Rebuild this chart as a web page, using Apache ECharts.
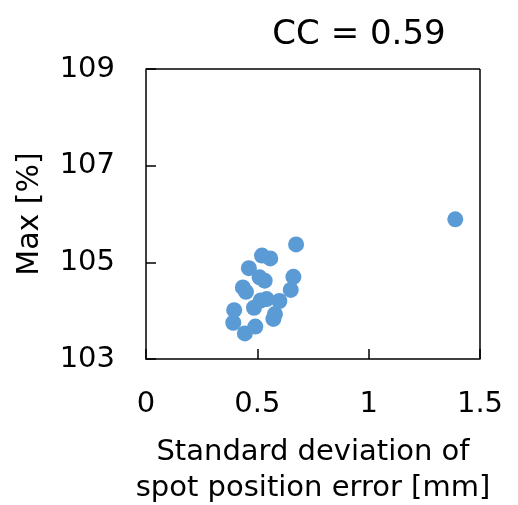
<!DOCTYPE html>
<html>
<head>
<meta charset="utf-8">
<script src="https://cdn.jsdelivr.net/npm/echarts@6/dist/echarts.min.js"></script>
<style>
html,body{margin:0;padding:0;background:#fff;}
#main{width:518px;height:505px;}
</style>
</head>
<body>
<div id="main"></div>
<script>
var titleText = 'CC = 0.59';
var xName = 'Standard deviation of\nspot position error [mm]';
var yName = 'Max [%]';
var xTicks = [0, 0.5, 1, 1.5];
var yTicks = [103, 105, 107, 109];
var sdValues = [1.389, 0.674, 0.521, 0.558, 0.462, 0.510, 0.533, 0.662, 0.435, 0.449, 0.650, 0.515, 0.542, 0.599, 0.485, 0.396, 0.579, 0.572, 0.392, 0.491, 0.444];
var maxValues = [105.89, 105.37, 105.14, 105.08, 104.88, 104.69, 104.62, 104.70, 104.48, 104.39, 104.43, 104.21, 104.24, 104.20, 104.06, 104.01, 103.93, 103.83, 103.75, 103.67, 103.53];

var data = sdValues.map(function (x, i) { return [x, maxValues[i]]; });
var fontFamily = 'DejaVu Sans';
var chart = echarts.init(document.getElementById('main'), null, {renderer: 'canvas'});
chart.setOption({
  animation: false,
  backgroundColor: '#ffffff',
  title: {
    text: titleText,
    left: 354, top: 13, textAlign: 'center',
    textStyle: {fontFamily: fontFamily, fontSize: 34, fontWeight: 'normal', color: '#000'}
  },
  grid: {left: 146, right: 38, top: 69, bottom: 146, containLabel: false, outerBoundsMode: 'none'},
  xAxis: {
    type: 'value',
    min: xTicks[0], max: xTicks[xTicks.length - 1], interval: 0.5,
    name: xName, nameLocation: 'middle', nameGap: 75,
    nameTextStyle: {fontFamily: fontFamily, fontSize: 29, color: '#000', lineHeight: 36},
    axisLine: {show: true, lineStyle: {color: '#000', width: 1.5}},
    axisTick: {show: true, inside: true, length: 10, lineStyle: {color: '#000', width: 1.5}},
    axisLabel: {fontFamily: fontFamily, fontSize: 29, color: '#000', margin: 31, showMinLabel: true, showMaxLabel: true},
    splitLine: {show: false}
  },
  yAxis: {
    type: 'value',
    min: yTicks[0], max: yTicks[yTicks.length - 1], interval: 2,
    name: yName, nameLocation: 'middle', nameGap: 101, nameRotate: 90,
    nameTextStyle: {fontFamily: fontFamily, fontSize: 30, color: '#000'},
    axisLine: {show: true, lineStyle: {color: '#000', width: 1.5}},
    axisTick: {show: true, inside: true, length: 10, lineStyle: {color: '#000', width: 1.5}},
    axisLabel: {fontFamily: fontFamily, fontSize: 29, color: '#000', margin: 31},
    splitLine: {show: false}
  },
  series: [{
    type: 'scatter',
    data: data,
    symbol: 'circle',
    symbolSize: 16,
    itemStyle: {color: '#5B9BD5', opacity: 1},
    z: 3
  }, {
    type: 'line',
    data: [],
    markLine: {
      silent: true, symbol: 'none', label: {show: false},
      lineStyle: {color: '#000', width: 1.5, type: 'solid'},
      data: [[{coord: [xTicks[0], yTicks[yTicks.length - 1]]}, {coord: [xTicks[xTicks.length - 1], yTicks[yTicks.length - 1]]}],
             [{coord: [xTicks[xTicks.length - 1], yTicks[0]]}, {coord: [xTicks[xTicks.length - 1], yTicks[yTicks.length - 1]]}]]
    }
  }]
});
</script>
</body>
</html>
